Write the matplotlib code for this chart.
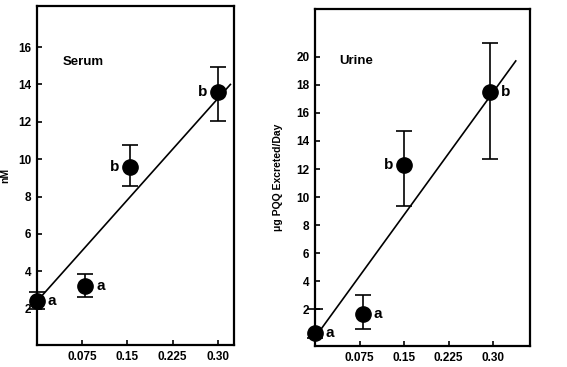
import matplotlib
matplotlib.use('Agg')
import matplotlib.pyplot as plt

plt.rcParams['font.family'] = ['Liberation Sans', 'DejaVu Sans']
plt.rcParams['font.weight'] = 'bold'

# serum (nM)
dose = [0.0, 0.08, 0.155, 0.30]
serum = [2.4, 3.2, 9.6, 13.6]
serum_lo = [2.0, 2.6, 8.55, 12.05]
serum_hi = [2.9, 3.85, 10.75, 14.95]
serum_letters = ['a', 'a', 'b', 'b']
serum_fit = [(0.003, 2.5), (0.321, 14.0)]

# urine (ug PQQ excreted/day)
dose_u = [0.0, 0.08, 0.15, 0.295]
urine = [0.3, 1.7, 12.3, 17.5]
urine_lo = [0.0, 0.6, 9.4, 12.7]
urine_hi = [2.0, 3.05, 14.7, 21.0]
urine_letters = ['a', 'a', 'b', 'b']
urine_fit = [(0.005, 0.3), (0.338, 19.7)]

xticks = [0.075, 0.15, 0.225, 0.30]
xticklabels = ['0.075', '0.15', '0.225', '0.30']

fig = plt.figure(figsize=(5.67, 3.67), dpi=100)
ax1 = fig.add_axes([37 / 567, 1 - 345 / 367, 197 / 567, 339 / 367])
ax2 = fig.add_axes([315 / 567, 1 - 346 / 367, 215 / 567, 337 / 367])


def panel(ax, x, y, lo, hi, letters, fit, sides, title, tx, ty, ylabel, yticks, labx):
    yerr = [[v - l for v, l in zip(y, lo)], [h - v for v, h in zip(y, hi)]]
    ax.errorbar(x, y, yerr=yerr, fmt='o', color='black', ms=11,
                capsize=5.5, elinewidth=1.2, capthick=1.2, clip_on=False, zorder=3)
    ax.plot([fit[0][0], fit[1][0]], [fit[0][1], fit[1][1]], color='black', lw=1.2)
    for xi, yi, t, s in zip(x, y, letters, sides):
        off = 0.018 if s == 'r' else -0.018
        ax.text(xi + off, yi, t, ha='left' if s == 'r' else 'right', va='center',
                fontsize=11, fontweight='bold')
    ax.text(tx, ty, title, fontsize=9.5, fontweight='bold', va='center')
    ax.set_ylabel(ylabel, fontsize=7.5, fontweight='bold')
    ax.yaxis.set_label_coords(labx, 0.5)
    ax.set_xticks(xticks)
    ax.set_xticklabels(xticklabels)
    ax.set_yticks(yticks)
    ax.tick_params(labelsize=8.5, width=1.2, length=3.5, direction='in', pad=4)
    for s in ax.spines.values():
        s.set_linewidth(1.6)


panel(ax1, dose, serum, serum_lo, serum_hi, serum_letters, serum_fit,
      ['r', 'r', 'l', 'l'], 'Serum', 0.043, 15.2, 'nM', [2, 4, 6, 8, 10, 12, 14, 16], -0.135)
ax1.set_xlim(0, 0.327)
ax1.set_ylim(0.05, 18.2)

panel(ax2, dose_u, urine, urine_lo, urine_hi, urine_letters, urine_fit,
      ['r', 'r', 'l', 'r'], 'Urine', 0.04, 19.7, 'μg PQQ Excreted/Day',
      [2, 4, 6, 8, 10, 12, 14, 16, 18, 20], -0.15)
ax2.set_xlim(0, 0.362)
ax2.set_ylim(-0.6, 23.4)

fig.savefig('out.png', dpi=100)
